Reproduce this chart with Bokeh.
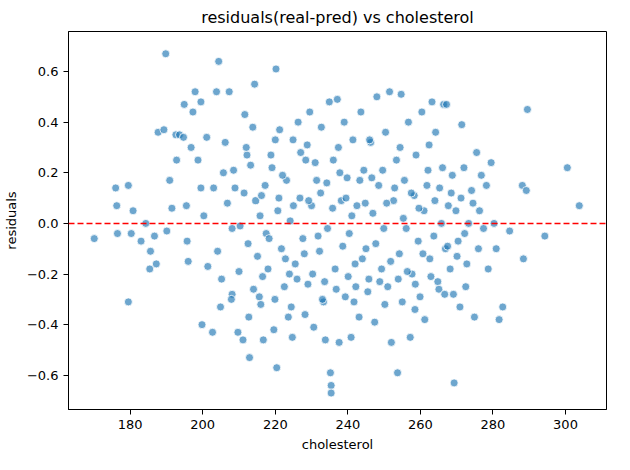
from bokeh.plotting import figure
from bokeh.models import Span, FixedTicker, Range1d
from bokeh.embed import file_html
from bokeh.resources import INLINE

cholesterol = [170.1,176.0,176.3,176.5,179.5,179.5,180.3,180.8,183,184.3,185.4,185.6,186.7,187.2,187.7,
189.3,189.8,190.9,190.1,191.5,192.8,192.6,193.6,194.7,194.9,195.5,195.7,196,196.8,197.3,197.9,198.7,199.5,
199.5,199.8,200.3,201.1,201.4,202.7,203,203.8,204.1,204.4,204.9,205.7,206.2,207.3,208.1,208.1,208.9,209.7,
210.3,211.1,211.6,212.2,212.7,212.9,213.8,214.3,214.6,215.1,215.6,216.2,216.7,217.5,218,218.8,219.6,220.2,
220.4,220.7,221.2,221.7,222.5,223.1,223.6,224.1,224.7,224.9,225.5,226.3,226.8,227.6,228.2,228.4,229,229.5,
230,230.6,231.4,232.2,232.7,233.3,233.8,234.4,234.9,235.2,235.4,235.4,236,236.5,237.1,237.6,238.2,239,239.3,
239.8,240.4,240.9,241.4,242,242.5,243.1,243.6,244.4,245,245.5,246.3,246.9,247.4,248,248.5,249.3,249.9,250.4,
251,251.5,252,252.6,253.4,253.7,254.2,254.7,255,255.6,256.1,256.7,257.2,257.7,258.3,258.8,259.4,259.9,260.4,
261,261.2,262.1,262.6,263.2,263.7,264.2,264.8,265.3,265.8,266.4,266.9,267.2,267.7,268.2,268.8,269.1,269.3,
269.8,270.4,270.9,271.4,272,272.2,272.8,273.3,274.1,274.9,275.5,276.3,276.8,277.4,278.2,278.7,279.5,280.3,
280.9,281.7,282.7,284.6,288.1,288.4,289.2,289.5,294.3,300.5,303.8,
205.2,206.8,208.5,210.0,211.4,212.5,213.2,214.0,215.8,216.5,217.2,218.3,219.1,219.9,221.0,222.0,222.8,
223.9,225.0,226.0,227.0,228.0,229.2,230.3,231.0,231.8,232.5,233.6,234.2,235.8,236.8,237.8,238.6,239.5,
240.1,241.1,242.2,243.3,244.0,244.8,245.8,246.6,247.7,248.8,249.6,250.7,251.8,252.9,253.9,255.3,256.4,
257.5,258.6,259.6,260.7,261.8,262.9,264.0,265.1,266.1,267.5,268.5,270.1,271.2,272.5,274.5,276.0,
207.9,212.0,216.0,220.0,224.4,228.8,233.0,237.4,241.7,246.0,250.2,254.4,258.5,262.4,266.7]
residuals = [-0.06,0.14,0.07,-0.04,0.15,-0.31,-0.04,0.05,-0.07,0.0,-0.18,-0.11,-0.05,-0.16,0.36,
0.37,0.67,0.17,-0.03,0.06,0.25,0.35,0.35,0.34,0.47,0.07,-0.07,-0.15,0.30,0.44,0.52,0.25,0.48,
0.14,-0.40,0.03,0.34,-0.17,-0.43,0.14,0.52,-0.11,0.64,-0.33,0.20,0.32,0.52,-0.28,-0.02,0.14,-0.43,
-0.01,-0.46,0.43,0.27,-0.37,-0.53,0.38,0.55,0.09,-0.13,-0.29,0.11,-0.46,-0.04,-0.18,0.27,-0.42,0.61,
-0.57,0.05,0.37,-0.10,-0.25,0.17,-0.37,0.01,-0.45,0.33,-0.16,0.40,0.10,-0.06,-0.36,0.25,-0.24,0.44,
0.07,-0.41,0.17,-0.11,0.38,-0.31,-0.46,-0.02,0.48,-0.59,-0.64,-0.67,0.25,-0.18,0.49,-0.47,0.09,0.40,-0.29,
0.18,-0.04,-0.45,0.33,-0.16,0.07,-0.37,0.44,0.21,-0.10,-0.27,0.32,0.04,-0.39,0.50,0.15,-0.18,-0.02,0.36,
-0.25,0.52,-0.47,0.09,0.25,-0.59,-0.12,0.51,-0.31,0.17,-0.02,0.40,-0.45,-0.20,0.11,0.27,-0.07,-0.29,0.44,
0.05,-0.38,0.21,-0.14,0.48,-0.05,0.36,-0.23,0.14,0.0,0.47,-0.10,0.47,0.07,-0.18,0.19,-0.28,-0.63,
0.05,-0.07,-0.33,0.39,0.22,-0.04,-0.16,0.0,0.13,-0.37,0.28,0.05,0.19,-0.02,0.15,-0.18,0.24,0.0,
-0.10,-0.38,-0.33,-0.03,0.15,-0.14,0.13,0.45,-0.05,0.22,0.07,
-0.22,0.08,0.21,-0.19,0.12,-0.08,0.23,-0.26,0.03,-0.21,0.15,-0.06,0.22,-0.30,0.10,0.19,-0.14,
-0.20,0.07,-0.22,0.28,-0.12,0.09,-0.20,0.24,-0.05,0.12,-0.23,0.16,0.06,-0.26,0.20,-0.09,0.10,
-0.21,0.03,-0.25,0.17,-0.14,0.08,-0.22,0.18,-0.08,-0.23,0.21,0.08,-0.15,0.14,-0.22,0.02,-0.19,
0.12,-0.24,0.06,-0.12,0.15,-0.21,0.09,-0.26,0.22,-0.09,0.12,-0.13,0.10,-0.25,0.08,-0.10,
-0.30,0.30,-0.32,0.33,-0.33,0.31,-0.30,0.30,-0.31,0.33,-0.32,0.30,-0.34,0.31,-0.28]

x_ticks = [180, 200, 220, 240, 260, 280, 300]
y_ticks = [-0.6, -0.4, -0.2, 0.0, 0.2, 0.4, 0.6]

p = figure(width=614, height=454, output_backend="svg", toolbar_location=None,
           title="residuals(real-pred) vs cholesterol",
           x_range=Range1d(163.0, 311.3), y_range=Range1d(-0.735, 0.758),
           min_border_left=10, min_border_right=8, min_border_top=5)
p.scatter(cholesterol, residuals, size=8, fill_color="#1f77b4", fill_alpha=0.65,
          line_color="white", line_width=0.8)
p.add_layout(Span(location=0, dimension="width", line_color="red", line_dash="6 3", line_width=1.5))

p.title.align = "center"
p.title.text_font = "DejaVu Sans"
p.title.text_font_size = "16px"
p.title.text_font_style = "normal"
p.title.text_color = "black"
p.xaxis.axis_label = "cholesterol"
p.yaxis.axis_label = "residuals"
for ax in (p.xaxis, p.yaxis):
    ax.axis_label_text_font = "DejaVu Sans"
    ax.axis_label_text_font_size = "13px"
    ax.axis_label_text_font_style = "normal"
    ax.axis_label_text_color = "black"
    ax.major_label_text_font = "DejaVu Sans"
    ax.major_label_text_font_size = "13px"
    ax.major_label_text_color = "black"
    ax.minor_tick_line_color = None
    ax.major_tick_out = 5
    ax.major_tick_in = 0
    ax.axis_line_color = "black"
    ax.major_tick_line_color = "black"
p.xaxis.ticker = FixedTicker(ticks=x_ticks)
p.yaxis.ticker = FixedTicker(ticks=y_ticks)
p.yaxis.major_label_overrides = {t: f"{t:.1f}".replace("-", "\u2212") for t in y_ticks}
p.grid.visible = False
p.outline_line_color = "black"

open("out.html", "w").write(file_html(p, INLINE))
